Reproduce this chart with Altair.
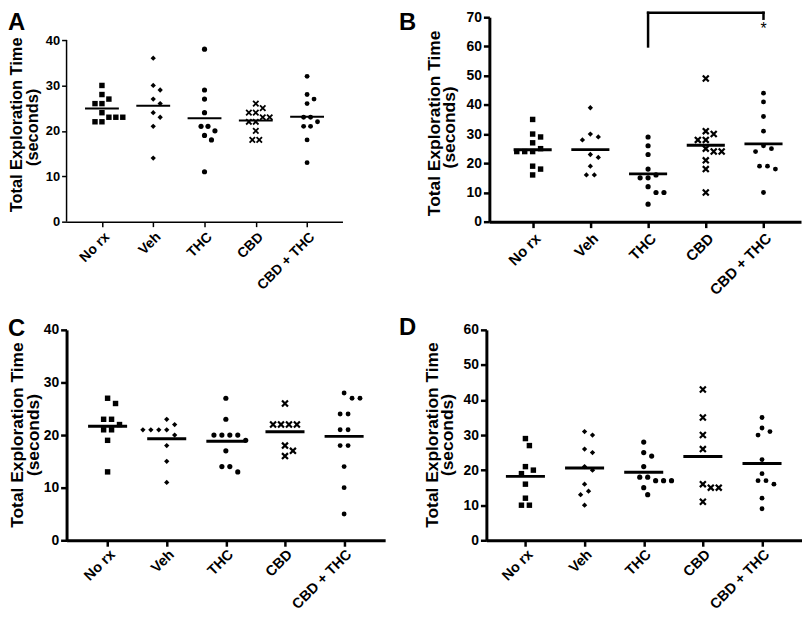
import altair as alt
import pandas as pd

GROUPS = ["No rx", "Veh", "THC", "CBD", "CBD + THC"]
TITLE_LINES = ["Total Exploration Time", "(seconds)"]
FONT = "Liberation Sans"
X_PATH = "M-1,-1L1,1M-1,1L1,-1"

# ---- values (seconds) ----
A_norx = [30, 28, 27, 26, 26, 24, 23, 23, 23, 22, 22]
A_veh = [36, 30, 29, 27, 26, 24, 23, 21, 14]
A_thc = [38, 29, 27, 24, 21, 21, 20, 19, 18, 11]
A_cbd = [26, 25, 24, 24, 23, 23, 22, 22, 20, 18, 18]
A_cbdthc = [32, 28, 27, 26, 23, 23, 22, 21, 21, 18, 13]

B_norx = [35, 30, 29, 27, 25, 24, 24, 24, 19, 18, 16]
B_veh = [39, 30, 29, 28, 23, 22, 19, 16, 16]
B_thc = [29, 26, 23, 18, 16, 15, 15, 12, 10, 10, 6]
B_cbd = [49, 31, 30, 28, 28, 25, 24, 24, 21, 18, 10]
B_cbdthc = [44, 41, 36, 31, 26, 25, 24, 19, 19, 18, 10]

C_norx = [27, 26, 23, 23, 22, 21, 21, 19, 13]
C_veh = [23, 22, 21, 21, 21, 21, 20, 18, 15, 11]
C_thc = [27, 23, 20, 20, 20, 20, 19, 17, 14, 14, 13]
C_cbd = [26, 22, 22, 22, 22, 18, 17, 16]
C_cbdthc = [28, 27, 27, 24, 24, 21, 21, 18, 18, 14, 10, 5]

D_norx = [29, 27, 21, 20, 19, 16, 12, 10, 10]
D_veh = [31, 30, 26, 25, 21, 20, 16, 14, 13, 10]
D_thc = [28, 25, 24, 21, 18, 18, 17, 17, 17, 15, 13]
D_cbd = [43, 35, 30, 26, 16, 15, 15, 11]
D_cbdthc = [35, 32, 31, 30, 23, 19, 17, 17, 16, 12, 9]

# significance bracket in panel B (THC vs CBD + THC)
B_bracket_groups = ["THC", "CBD + THC"]
B_bracket_levels = [60, 71.5, 69.5]   # left leg bottom, bar, right leg bottom
B_star_level = 66


def swarm(vals, ppu, step, d):
    """beeswarm-style horizontal offsets (in category units)"""
    res = [0.0] * len(vals)
    placed = []
    for v in sorted(set(vals), reverse=True):
        idx = [i for i, w in enumerate(vals) if w == v]
        k = len(idx)
        y = v * ppu
        base = [(j - (k - 1) / 2) * d for j in range(k)]
        shifts = [0.0]
        for m in range(1, 14):
            shifts += [m * d / 2, -m * d / 2]
        xs = base
        for s in shifts:
            xs = [b + s for b in base]
            if all((x - px) ** 2 + (y - py) ** 2 >= (0.92 * d) ** 2
                   for x in xs for px, py in placed):
                break
        for i, x in zip(idx, xs):
            res[i] = x / step
            placed.append((x, y))
    return res


def panel(letter, data, cfg, bracket=None):
    W, H = cfg["w"], cfg["h"]
    xdom, ydom = cfg["xdom"], cfg["ydom"]
    step = W / (xdom[1] - xdom[0])
    ppu = H / (ydom[1] - ydom[0])
    rows = []
    for gi, (g, vals) in enumerate(zip(GROUPS, data)):
        offs = swarm(vals, ppu, step, cfg["d"])
        for v, o in zip(vals, offs):
            rows.append({"group": g, "gi": gi, "value": v, "xpos": gi + o})
    df = pd.DataFrame(rows)
    means = df.groupby("gi", as_index=False)["value"].mean()
    means["xpos"] = means["gi"] - 0.33
    means["x2"] = means["gi"] + 0.33

    xs = alt.Scale(domain=xdom, nice=False, zero=False)
    ys = alt.Scale(domain=ydom, nice=False, zero=False)
    label_expr = "[" + ",".join("'%s'" % g for g in GROUPS) + "][datum.value]"

    xaxis = alt.Axis(values=list(range(len(GROUPS))), labelExpr=label_expr, title=None,
                     grid=False, labelAngle=-45, labelFont=FONT, labelFontWeight="bold",
                     labelFontSize=cfg["cat"], labelColor="black", labelFlush=False,
                     labelOverlap=False, labelPadding=cfg["cp"], domainColor="black",
                     domainWidth=cfg["aw"], tickColor="black", tickWidth=cfg["tw"],
                     tickSize=cfg["ts"])
    yaxis = alt.Axis(values=cfg["yticks"], title=None, grid=False, labelFont=FONT,
                     labelFontWeight="bold", labelFontSize=cfg["lab"], labelColor="black",
                     labelFlush=False, labelPadding=2,
                     domain=cfg["ydomain_line"], domainColor="black",
                     domainWidth=cfg["aw"], tickColor="black", tickWidth=cfg["tw"],
                     tickSize=cfg["ts"])

    def X(field):
        return alt.X(field, scale=xs, axis=xaxis)

    def Y(field):
        return alt.Y(field, scale=ys, axis=yaxis)

    base = alt.Chart(df)
    filled = base.transform_filter(alt.datum.group != "CBD").mark_point(
        filled=True, color="black", opacity=1).encode(
        x=X("xpos:Q"), y=Y("value:Q"),
        shape=alt.Shape("group:N", scale=alt.Scale(domain=GROUPS,
                        range=["square", "diamond", "circle", "circle", "circle"]), legend=None),
        size=alt.Size("group:N", scale=alt.Scale(domain=GROUPS, range=cfg["sizes"]), legend=None),
    )
    crosses = base.transform_filter(alt.datum.group == "CBD").mark_point(
        shape=X_PATH, filled=False, color="black", opacity=1, strokeWidth=cfg["xsw"],
        size=cfg["xsize"]).encode(x=X("xpos:Q"), y=Y("value:Q"))
    mean_lines = alt.Chart(means).mark_rule(color="black", strokeWidth=cfg["mw"]).encode(
        x=X("xpos:Q"), x2="x2:Q", y=Y("value:Q"))
    lab = alt.Chart(pd.DataFrame({"t": [letter]})).mark_text(
        align="left", baseline="top", font=FONT, fontWeight="bold",
        fontSize=24, color="black").encode(
        text="t:N", x=alt.value(cfg["lx"]), y=alt.value(cfg["ly"]))
    layers = [filled, crosses, mean_lines, lab]

    # two-line y-axis title
    for line, tx, ty in zip(TITLE_LINES, cfg["tx"], cfg["ty"]):
        layers.append(alt.Chart(pd.DataFrame({"t": [line]})).mark_text(
            angle=270, align="center", baseline="middle", font=FONT, fontWeight="bold",
            fontSize=cfg["title"], color="black").encode(
            text="t:N", x=alt.value(tx), y=alt.value(ty)))

    if not cfg["ydomain_line"]:
        ax = pd.DataFrame({"xpos": [xdom[0]], "value": [cfg["yticks"][0]],
                           "y1": [cfg["yticks"][-1]]})
        layers.append(alt.Chart(ax).mark_rule(color="black", strokeWidth=cfg["aw"]).encode(
            x=X("xpos:Q"), y=Y("value:Q"), y2="y1:Q"))

    if bracket is not None:
        g0, g1 = [GROUPS.index(g) for g in bracket["groups"]]
        lo, top, lo2 = bracket["levels"]
        segs = pd.DataFrame({"xpos": [g0, g0, g1], "xb": [g0, g1, g1],
                             "value": [lo, top, top], "yb": [top, top, lo2]})
        layers.append(alt.Chart(segs).mark_rule(color="black", strokeWidth=2.5,
                                                 strokeCap="square").encode(
            x=X("xpos:Q"), x2="xb:Q", y=Y("value:Q"), y2="yb:Q"))
        star = pd.DataFrame({"xpos": [g1], "value": [bracket["star"]], "t": ["*"]})
        layers.append(alt.Chart(star).mark_text(font=FONT, fontSize=16, color="black",
                                                baseline="middle").encode(
            x=X("xpos:Q"), y=Y("value:Q"), text="t:N"))

    return alt.layer(*layers).properties(width=W, height=H)


thin = dict(aw=1.5, tw=1.5, ts=5, lab=13, title=16.5, cat=14, cp=3, mw=2, d=7,
            sizes=[30, 24, 34, 30, 34], xsize=30, xsw=1.8)
bold = dict(aw=3, tw=2.5, ts=6, lab=14, title=17.5, cat=15, cp=3, mw=3, d=8,
            sizes=[38, 28, 42, 38, 42], xsize=36, xsw=2.2)

cfgA = dict(thin, w=278, h=206, xdom=[-0.69, 4.69], ydom=[0, 40 * 206 / 183],
            yticks=[0, 10, 20, 30, 40], ydomain_line=False, lx=-59, ly=-6,
            tx=[-50, -34], ty=[108.5, 111])
cfgB = dict(bold, w=314, h=206, xdom=[-0.75, 4.65], ydom=[0, 70],
            yticks=[0, 10, 20, 30, 40, 50, 60, 70], ydomain_line=True, lx=-91, ly=-6,
            tx=[-54.5, -39.5], ty=[107, 111])
cfgC = dict(bold, w=321, h=212, xdom=[-0.694, 4.694], ydom=[0, 40], cat=14.5, cp=1,
            yticks=[0, 10, 20, 30, 40], ydomain_line=True, lx=-59, ly=-13,
            tx=[-49, -33], ty=[106, 106])
cfgD = dict(bold, w=318, h=212, xdom=[-0.66, 4.676], ydom=[0, 60], cat=14.5, cp=1,
            yticks=[0, 10, 20, 30, 40, 50, 60], ydomain_line=True, lx=-88, ly=-14,
            tx=[-54, -39], ty=[106, 106])

pA = panel("A", [A_norx, A_veh, A_thc, A_cbd, A_cbdthc], cfgA)
pB = panel("B", [B_norx, B_veh, B_thc, B_cbd, B_cbdthc], cfgB,
           bracket={"groups": B_bracket_groups, "levels": B_bracket_levels, "star": B_star_level})
pC = panel("C", [C_norx, C_veh, C_thc, C_cbd, C_cbdthc], cfgC)
pD = panel("D", [D_norx, D_veh, D_thc, D_cbd, D_cbdthc], cfgD)

chart = alt.vconcat(
    alt.hconcat(pA, pB, spacing=57),
    alt.hconcat(pC, pD, spacing=14),
    spacing=18,
).properties(padding=0, background="white").configure_view(stroke=None)

chart.save("out.html", embed_options={"renderer": "svg", "actions": False})
